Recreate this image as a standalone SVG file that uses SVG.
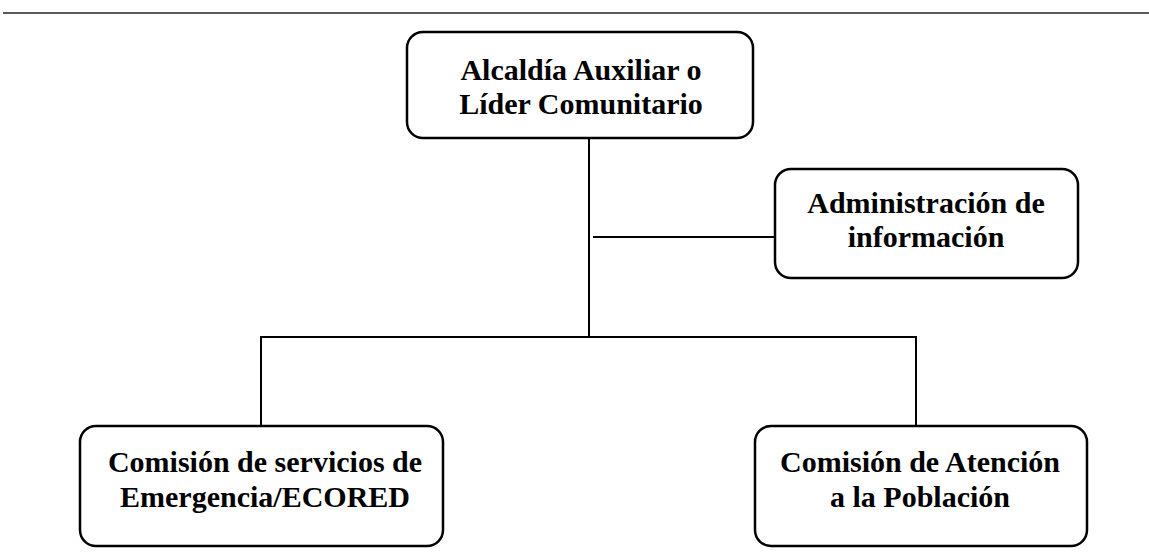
<svg xmlns="http://www.w3.org/2000/svg" width="1149" height="554" viewBox="0 0 1149 554">
<style>
.box{fill:#fff;stroke:#000;stroke-width:2.5}
.con{stroke:#000;stroke-width:2;fill:none}
.t{font-family:'Liberation Serif','DejaVu Serif',serif;font-weight:bold;font-size:30px;text-anchor:middle;fill:#000}
</style>
<rect width="1149" height="554" fill="#fff"/>
<line x1="3" y1="13" x2="1149" y2="13" stroke="#595959" stroke-width="2"/>
<g id="connectors">
<line class="con" x1="589" y1="138" x2="589" y2="337"/>
<line class="con" x1="593" y1="237" x2="775" y2="237"/>
<polyline class="con" points="261,426 261,337 916,337 916,426"/>
</g>
<g id="n1">
<rect class="box" x="407" y="32" width="346" height="106" rx="16"/>
<text class="t" x="581" y="80">Alcaldía Auxiliar o</text>
<text class="t" x="581" y="114">Líder Comunitario</text>
</g>
<g id="n2">
<rect class="box" x="775" y="169" width="303" height="109" rx="16"/>
<text class="t" x="926" y="213">Administración de</text>
<text class="t" x="926" y="247">información</text>
</g>
<g id="n3">
<rect class="box" x="80" y="426" width="363" height="120" rx="16"/>
<text class="t" x="265" y="472">Comisión de servicios de</text>
<text class="t" x="265" y="507">Emergencia/ECORED</text>
</g>
<g id="n4">
<rect class="box" x="755" y="426" width="332" height="120" rx="16"/>
<text class="t" x="920" y="472">Comisión de Atención</text>
<text class="t" x="920" y="507">a la Población</text>
</g>
</svg>
